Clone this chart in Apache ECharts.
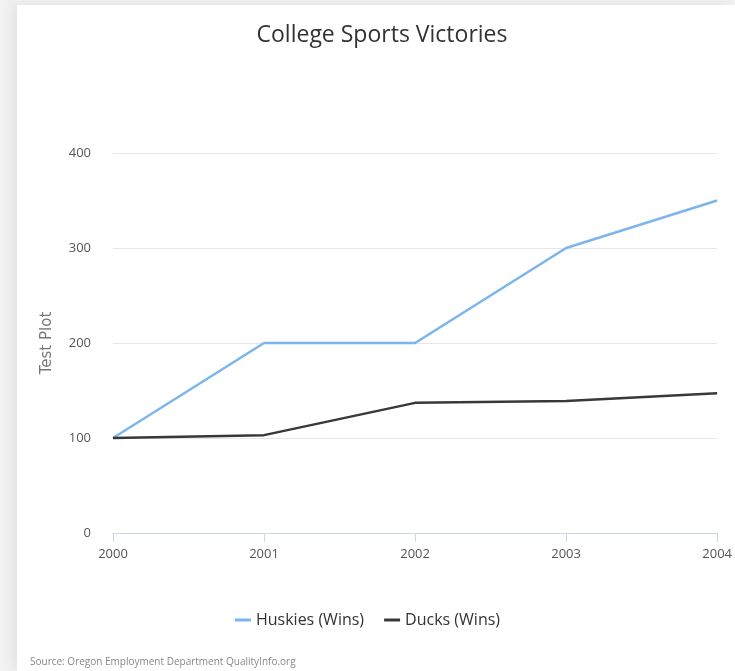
<!DOCTYPE html>
<html>
<head>
<meta charset="utf-8">
<script src="https://cdn.jsdelivr.net/npm/echarts@6/dist/echarts.min.js"></script>
<style>
  html, body { margin: 0; padding: 0; background: #f2f2f2; }
  #wrap { position: absolute; left: 17px; top: 5px; width: 718px; height: 666px;
          background: #fff; box-shadow: -6px -2px 10px rgba(0,0,0,0.06); }
  #chart { position: absolute; left: -17px; top: -5px; width: 735px; height: 671px; }
</style>
</head>
<body>
<div id="wrap"><div id="chart"></div></div>
<script>
const years = ['2000', '2001', '2002', '2003', '2004'];
const huskies = [100, 200, 200, 300, 350];
const ducks = [100, 103, 137, 139, 147];
const yTicks = { min: 0, max: 400, interval: 100 };

const FONT = 'Open Sans';
const chart = echarts.init(document.getElementById('chart'), null, { renderer: 'canvas' });

chart.setOption({
  backgroundColor: 'transparent',
  animation: false,
  title: {
    text: 'College Sports Victories',
    left: 377, top: 19, textAlign: 'center',
    textStyle: { fontFamily: FONT, fontSize: 23, fontWeight: 'normal', color: '#333' }
  },
  legend: {
    bottom: 38, left: 'center', itemWidth: 16, itemHeight: 3, itemGap: 20,
    icon: 'rect',
    textStyle: { fontFamily: FONT, fontSize: 16, color: '#333' },
    data: ['Huskies (Wins)', 'Ducks (Wins)']
  },
  graphic: [{
    type: 'text', left: 30, top: 657,
    style: { text: 'Source: Oregon Employment Department QualityInfo.org',
             font: '10px "Open Sans"', fill: '#888' }
  }],
  grid: { left: 113, right: 12, top: 153, bottom: 138, containLabel: false },
  xAxis: {
    type: 'category', data: years, boundaryGap: false,
    axisLine: { lineStyle: { color: '#ccd6eb' } },
    axisTick: { show: true, length: 9, lineStyle: { color: '#ccd6eb' } },
    axisLabel: { color: '#555', fontFamily: FONT, fontSize: 13, margin: 15,
                 showMaxLabel: true, showMinLabel: true },
    splitLine: { show: false }
  },
  yAxis: {
    type: 'value', min: yTicks.min, max: yTicks.max, interval: yTicks.interval,
    name: 'Test Plot', nameLocation: 'middle', nameGap: 58, nameRotate: 90,
    nameTextStyle: { color: '#777', fontFamily: 'DejaVu Sans', fontSize: 15 },
    axisLine: { show: false }, axisTick: { show: false },
    axisLabel: { color: '#555', fontFamily: FONT, fontSize: 13, margin: 22 },
    splitLine: { lineStyle: { color: '#e6e6e6', width: 1 } }
  },
  series: [
    { name: 'Huskies (Wins)', type: 'line', data: huskies, showSymbol: false, symbol: 'none',
      lineStyle: { color: '#7cb5ec', width: 2.5 }, itemStyle: { color: '#7cb5ec' } },
    { name: 'Ducks (Wins)', type: 'line', data: ducks, showSymbol: false, symbol: 'none',
      lineStyle: { color: '#383838', width: 2.5 }, itemStyle: { color: '#383838' } }
  ]
});
</script>
</body>
</html>
